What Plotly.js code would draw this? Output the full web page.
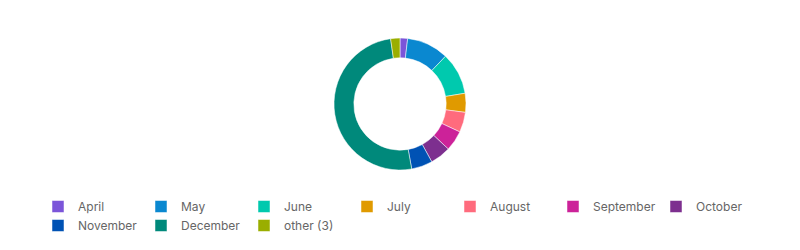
<!DOCTYPE html>
<html>
<head>
<meta charset="utf-8">
<script src="https://cdn.plot.ly/plotly-3.0.1.min.js"></script>
<style>html,body{margin:0;padding:0;background:#fff;}#chart{width:800px;height:250px;}</style>
</head>
<body>
<div id="chart"></div>
<script>
const labels = ["April","May","June","July","August","September","October","November","December","other (3)"];
const values = [6.7, 36.9, 37.0, 16.7, 17.7, 18.0, 18.2, 18.6, 182.0, 8.2];
const colors = ["#7b55d9","#0a88d0","#00c9ae","#e09a00","#ff6b7d","#cc2299","#7d2f8f","#0052b4","#00897b","#9aae00"];

const trace = {
  type: "pie",
  labels: labels,
  values: values,
  sort: false,
  direction: "clockwise",
  rotation: 0,
  hole: 0.7,
  textinfo: "none",
  hoverinfo: "none",
  marker: {colors: colors, line: {width: 0.5, color: "#ffffff"}},
  domain: {x: [0, 1], y: [0.32, 0.848]}
};

const layout = {
  width: 800, height: 250,
  margin: {l: 0, r: 0, t: 0, b: 0},
  paper_bgcolor: "#ffffff",
  plot_bgcolor: "#ffffff",
  font: {family: "Inter, 'Open Sans', sans-serif", size: 12, color: "#666666"},
  showlegend: true,
  legend: {
    orientation: "h",
    x: 0.0475, xanchor: "left",
    y: 0.232, yanchor: "top",
    entrywidth: 58, entrywidthmode: "pixels",
    traceorder: "normal",
    font: {size: 12, color: "#666666"}
  }
};

Plotly.newPlot("chart", [trace], layout, {displayModeBar: false, staticPlot: true});
</script>
</body>
</html>
